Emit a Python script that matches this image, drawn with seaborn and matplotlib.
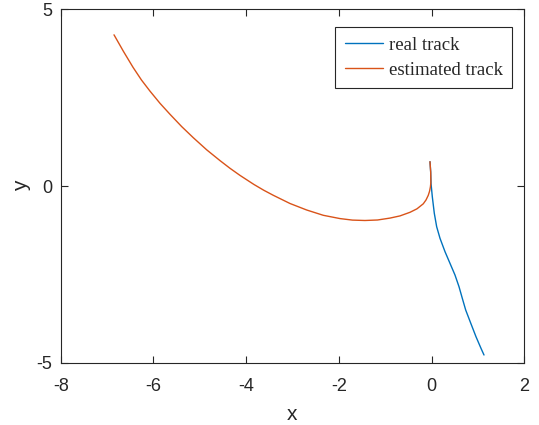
import numpy as np
import pandas as pd
import matplotlib
matplotlib.use("Agg")
import matplotlib.pyplot as plt
import seaborn as sns

# Real track (ground truth path)
real_x = [-0.034, -0.019, -0.012, 0.016, 0.059, 0.110, 0.182, 0.290, 0.397, 0.505,
          0.592, 0.663, 0.736, 0.846, 0.958, 1.066, 1.131]
real_y = [0.688, 0.396, 0.076, -0.303, -0.772, -1.152, -1.480, -1.859, -2.187, -2.518,
          -2.850, -3.178, -3.509, -3.885, -4.264, -4.593, -4.782]

# Estimated track
est_x = [-0.034, -0.019, -0.015, -0.025, -0.043, -0.071, -0.120, -0.179, -0.314, -0.465,
         -0.681, -0.897, -1.166, -1.436, -1.706, -1.975, -2.336, -2.694, -3.054, -3.414,
         -3.621, -3.830, -4.132, -4.348, -4.564, -4.851, -5.140, -5.390, -5.642, -5.858,
         -6.074, -6.257, -6.440, -6.645, -6.850]
est_y = [0.688, 0.396, 0.099, -0.028, -0.147, -0.263, -0.396, -0.504, -0.645, -0.744,
         -0.846, -0.908, -0.962, -0.976, -0.965, -0.922, -0.829, -0.679, -0.495, -0.263,
         -0.119, 0.042, 0.300, 0.501, 0.719, 1.024, 1.367, 1.681, 2.029, 2.340,
         2.685, 2.998, 3.359, 3.806, 4.278]

track_names = ["real track", "estimated track"]
x_ticks = [-8, -6, -4, -2, 0, 2]
y_ticks = [-5, 0, 5]

df = pd.concat([
    pd.DataFrame({"x": real_x, "y": real_y, "track": track_names[0]}),
    pd.DataFrame({"x": est_x, "y": est_y, "track": track_names[1]}),
], ignore_index=True)

sns.set_style("white")
plt.rcParams["font.family"] = ["Liberation Sans", "DejaVu Sans"]
plt.rcParams["axes.unicode_minus"] = False

fig = plt.figure(figsize=(5.39, 4.25), dpi=100)
ax = fig.add_axes([0.1126, 0.1466, 0.8601, 0.8315])

sns.lineplot(data=df, x="x", y="y", hue="track", hue_order=track_names,
             palette=["#0072BD", "#D95319"], sort=False, estimator=None,
             units="track", linewidth=1.0, ax=ax)

ax.set_xlim(-8, 2)
ax.set_ylim(-5, 5)
ax.set_xticks(x_ticks)
ax.set_yticks(y_ticks)
ax.tick_params(direction="in", length=5, width=0.8, color="#262626",
               labelsize=13, labelcolor="#262626", top=True, right=True,
               bottom=True, left=True)
ax.tick_params(axis="x", pad=11)
ax.tick_params(axis="y", pad=6)
for s in ax.spines.values():
    s.set_visible(True)
    s.set_color("#262626")
    s.set_linewidth(0.8)
ax.set_xlabel("x", fontsize=15, color="#262626", labelpad=7)
ax.set_ylabel("y", fontsize=15, color="#262626", labelpad=4)

leg = ax.legend(loc="upper right", bbox_to_anchor=(0.9735, 0.949), frameon=True,
                fancybox=False, edgecolor="#262626", framealpha=1,
                prop={"family": "Liberation Serif", "size": 13.5},
                handlelength=2.05, handletextpad=0.3, borderpad=0.5,
                labelspacing=0.42, borderaxespad=0)
leg.get_frame().set_linewidth(0.8)

fig.savefig("out.png", dpi=100)
